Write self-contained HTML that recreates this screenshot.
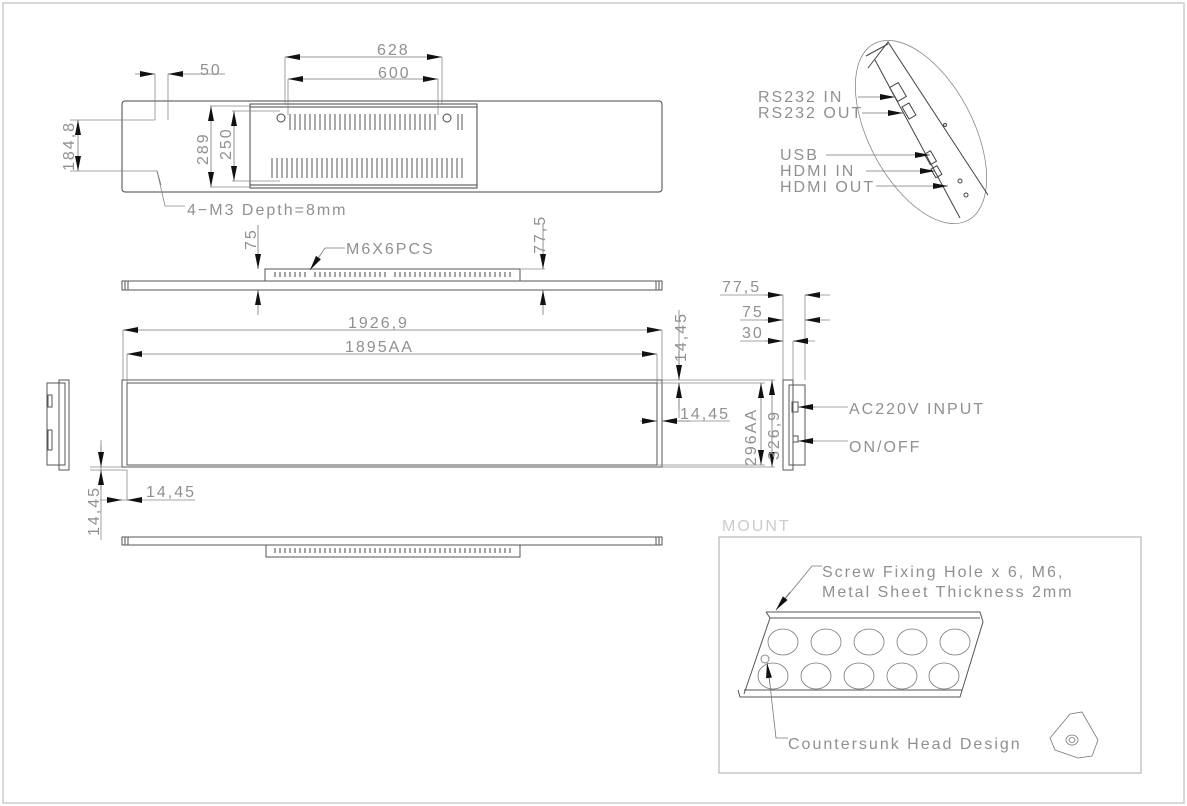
<!DOCTYPE html>
<html><head><meta charset="utf-8"><style>
html,body{margin:0;padding:0;background:#fff}
svg{display:block}
text{font-family:"Liberation Sans",sans-serif;fill:#909090;font-size:16px;font-weight:300;letter-spacing:2px}
</style></head><body>
<svg width="1187" height="806" viewBox="0 0 1187 806" xmlns="http://www.w3.org/2000/svg">
<defs>
<marker id="a" viewBox="0 0 10 4" refX="10" refY="2" markerWidth="16" markerHeight="6" markerUnits="userSpaceOnUse" orient="auto"><path d="M0,0L10,2L0,4z" fill="#111"/></marker>
</defs>
<rect x="3" y="3" width="1181" height="800" fill="none" stroke="#ccc" stroke-width="1.5"/>
<g stroke="#444" stroke-width="1" fill="none">
<rect x="122" y="101" width="540" height="91" rx="3"/>
<rect x="250" y="104" width="227" height="84"/>
<line x1="250" y1="107" x2="477" y2="107"/>
<line x1="250" y1="185" x2="477" y2="185"/>
<circle cx="281" cy="118" r="4"/><circle cx="447" cy="118" r="4"/>
</g>
<g stroke="#555" stroke-width="1">
<path d="M290 114v16M295 114v16M300 114v16M305 114v16M310 114v16M315 114v16M320 114v16M325 114v16M330 114v16M335 114v16M340 114v16M345 114v16M350 114v16M355 114v16M360 114v16M365 114v16M370 114v16M375 114v16M380 114v16M385 114v16M390 114v16M395 114v16M400 114v16M405 114v16M410 114v16M415 114v16M420 114v16M425 114v16M430 114v16M435 114v16M458 114v16M462 114v16"/>
<path d="M272 158v20M277 158v20M282 158v20M287 158v20M292 158v20M297 158v20M302 158v20M307 158v20M312 158v20M317 158v20M322 158v20M327 158v20M332 158v20M337 158v20M342 158v20M347 158v20M352 158v20M357 158v20M362 158v20M367 158v20M372 158v20M377 158v20M382 158v20M387 158v20M392 158v20M397 158v20M402 158v20M407 158v20M412 158v20M417 158v20M422 158v20M427 158v20M432 158v20M437 158v20M442 158v20M447 158v20M452 158v20M457 158v20M462 158v20"/>
</g>
<g stroke="#888" stroke-width="0.8" fill="none">
<line x1="285" y1="57" x2="285" y2="105"/><line x1="442" y1="57" x2="442" y2="105"/>
<line x1="288" y1="79" x2="288" y2="115"/><line x1="438" y1="79" x2="438" y2="115"/>
<line x1="155" y1="74" x2="155" y2="120"/><line x1="168" y1="74" x2="168" y2="120"/>
<line x1="70" y1="120" x2="155" y2="120"/><line x1="70" y1="171" x2="157" y2="171"/>
<line x1="210" y1="106" x2="250" y2="106"/><line x1="210" y1="187" x2="250" y2="187"/>
<line x1="232" y1="111" x2="280" y2="111"/><line x1="232" y1="181" x2="280" y2="181"/>
<path d="M157 171L165 206H185"/>
</g>
<g stroke="#777" stroke-width="0.8" marker-end="url(#a)">
<line x1="363" y1="57" x2="285" y2="57"/><line x1="363" y1="57" x2="442" y2="57"/>
<line x1="363" y1="79" x2="288" y2="79"/><line x1="363" y1="79" x2="438" y2="79"/>
<line x1="135" y1="74" x2="155" y2="74"/><line x1="225" y1="74" x2="168" y2="74"/>
<line x1="78" y1="145" x2="78" y2="120"/><line x1="78" y1="145" x2="78" y2="171"/>
<line x1="211" y1="146" x2="211" y2="106"/><line x1="211" y1="146" x2="211" y2="187"/>
<line x1="234" y1="146" x2="234" y2="111"/><line x1="234" y1="146" x2="234" y2="181"/>
<line x1="157" y1="171" x2="161" y2="185" marker-end="none"/>
</g>
<text x="377" y="55">628</text><text x="378" y="78">600</text><text x="200" y="75">50</text>
<text transform="translate(74,171) rotate(-90)">184,8</text>
<text transform="translate(208,165) rotate(-90)">289</text>
<text transform="translate(231,160) rotate(-90)">250</text>
<text x="187" y="215">4−M3  Depth=8mm</text>

<g stroke="#555" fill="none" stroke-width="1">
<rect x="122" y="281" width="540" height="9"/>
<rect x="265" y="269" width="255" height="12"/>
<path d="M125 281v9M128 281v9M656 281v9M659 281v9"/>
</g>
<g stroke="#666" stroke-width="1.2"><path d="M275 272v5M280 272v5M285 272v5M290 272v5M295 272v5M300 272v5M305 272v5M315 272v5M320 272v5M325 272v5M330 272v5M335 272v5M340 272v5M345 272v5M350 272v5M355 272v5M360 272v5M365 272v5M370 272v5M375 272v5M380 272v5M385 272v5M395 272v5M400 272v5M405 272v5M410 272v5M415 272v5M420 272v5M425 272v5M430 272v5M435 272v5M440 272v5M445 272v5M450 272v5M455 272v5M460 272v5M465 272v5M470 272v5M475 272v5M480 272v5M485 272v5M490 272v5M495 272v5M500 272v5M505 272v5M510 272v5"/></g>
<g stroke="#777" stroke-width="0.8" marker-end="url(#a)">
<line x1="258" y1="225" x2="258" y2="269"/><line x1="258" y1="315" x2="258" y2="290"/>
<line x1="543" y1="225" x2="543" y2="269"/><line x1="543" y1="315" x2="543" y2="290"/>
<path d="M345 248H325L310 270" fill="none"/>
</g>
<line x1="520" y1="269" x2="545" y2="269" stroke="#888" stroke-width="0.8"/>
<text transform="translate(256,250) rotate(-90)">75</text>
<text transform="translate(545,254) rotate(-90)">77,5</text>
<text x="346" y="254">M6X6PCS</text>

<g stroke="#555" fill="none" stroke-width="1">
<rect x="122" y="380" width="540" height="87"/>
<rect x="127" y="383" width="530" height="82"/>
</g>
<g stroke="#888" stroke-width="0.8" fill="none">
<line x1="123" y1="330" x2="123" y2="380"/><line x1="127" y1="354" x2="127" y2="383"/>
<line x1="662" y1="330" x2="662" y2="380"/><line x1="657" y1="354" x2="657" y2="383"/>
<line x1="662" y1="380" x2="775" y2="380"/><line x1="657" y1="383" x2="765" y2="383"/>
<line x1="657" y1="465" x2="765" y2="465"/><line x1="662" y1="467" x2="775" y2="467"/>
<line x1="679" y1="310" x2="679" y2="380"/>
<line x1="679" y1="383" x2="679" y2="418"/><line x1="679" y1="421" x2="730" y2="421"/>
<line x1="90" y1="467" x2="122" y2="467"/><line x1="90" y1="470" x2="127" y2="470"/>
<line x1="127" y1="470" x2="127" y2="500"/><line x1="100" y1="500" x2="195" y2="500"/>
<line x1="101" y1="440" x2="101" y2="540"/>
</g>
<g stroke="#777" stroke-width="0.8" marker-end="url(#a)">
<line x1="390" y1="330" x2="123" y2="330"/><line x1="390" y1="330" x2="662" y2="330"/>
<line x1="390" y1="354" x2="127" y2="354"/><line x1="390" y1="354" x2="657" y2="354"/>
<line x1="679" y1="350" x2="679" y2="380"/><line x1="679" y1="410" x2="679" y2="383"/>
<line x1="640" y1="421" x2="657" y2="421"/><line x1="690" y1="421" x2="662" y2="421"/>
<line x1="761" y1="424" x2="761" y2="383"/><line x1="761" y1="424" x2="761" y2="465"/>
<line x1="772" y1="424" x2="772" y2="380"/><line x1="772" y1="424" x2="772" y2="467"/>
<line x1="101" y1="445" x2="101" y2="467"/><line x1="101" y1="490" x2="101" y2="470"/>
<line x1="110" y1="500" x2="122" y2="500"/><line x1="140" y1="500" x2="127" y2="500"/>
</g>
<text x="348" y="328">1926,9</text><text x="345" y="352">1895AA</text>
<text transform="translate(686,362) rotate(-90)">14,45</text>
<text x="680" y="419">14,45</text>
<text transform="translate(756,466) rotate(-90)">296AA</text>
<text transform="translate(779,460) rotate(-90)">326,9</text>
<text transform="translate(99,536) rotate(-90)">14,45</text>
<text x="146" y="497">14,45</text>

<g stroke="#555" fill="none" stroke-width="1">
<rect x="122" y="537" width="540" height="8"/>
<rect x="266" y="545" width="254" height="12"/>
<path d="M125 537v8M128 537v8M656 537v8M659 537v8"/>
</g>
<g stroke="#666" stroke-width="1.2"><path d="M275 548v5M280 548v5M285 548v5M290 548v5M295 548v5M300 548v5M305 548v5M310 548v5M315 548v5M320 548v5M325 548v5M330 548v5M335 548v5M340 548v5M345 548v5M350 548v5M355 548v5M360 548v5M365 548v5M370 548v5M375 548v5M380 548v5M385 548v5M390 548v5M395 548v5M400 548v5M405 548v5M410 548v5M415 548v5M420 548v5M425 548v5M430 548v5M435 548v5M440 548v5M445 548v5M450 548v5M455 548v5M460 548v5M465 548v5M470 548v5M475 548v5M480 548v5M485 548v5M490 548v5M495 548v5M500 548v5M505 548v5M510 548v5"/></g>

<g stroke="#555" fill="none" stroke-width="1">
<rect x="47" y="383" width="18" height="82"/>
<rect x="59" y="380" width="10" height="90"/>
<rect x="48" y="395" width="4" height="12"/><rect x="48" y="430" width="4" height="20"/>
</g>
<g stroke="#555" fill="none" stroke-width="1">
<rect x="783" y="380" width="10" height="90"/>
<rect x="789" y="385" width="16" height="80"/>
<rect x="792" y="402" width="6" height="10"/><rect x="793" y="436" width="5" height="6"/>
</g>
<g stroke="#888" stroke-width="0.8" fill="none">
<line x1="720" y1="295" x2="783" y2="295"/><line x1="783" y1="295" x2="783" y2="380"/>
<line x1="740" y1="320" x2="783" y2="320"/><line x1="740" y1="341" x2="783" y2="341"/>
<line x1="805" y1="295" x2="830" y2="295"/><line x1="805" y1="320" x2="830" y2="320"/>
<line x1="793" y1="341" x2="815" y2="341"/>
<line x1="805" y1="295" x2="805" y2="380"/><line x1="793" y1="341" x2="793" y2="380"/>
<line x1="805" y1="407" x2="848" y2="407"/><line x1="805" y1="441" x2="848" y2="441"/>
</g>
<g stroke="#777" stroke-width="0.8" marker-end="url(#a)">
<line x1="765" y1="295" x2="783" y2="295"/><line x1="765" y1="320" x2="783" y2="320"/><line x1="765" y1="341" x2="783" y2="341"/>
<line x1="820" y1="295" x2="805" y2="295"/><line x1="820" y1="320" x2="805" y2="320"/><line x1="808" y1="341" x2="793" y2="341"/>
<line x1="815" y1="407" x2="798" y2="407"/><line x1="815" y1="441" x2="798" y2="441"/>
</g>
<text x="722" y="292">77,5</text><text x="742" y="317">75</text><text x="742" y="338">30</text>
<text x="849" y="414">AC220V INPUT</text><text x="849" y="452">ON/OFF</text>

<ellipse cx="921" cy="132" rx="52" ry="100" transform="rotate(-28 921 132)" fill="none" stroke="#888" stroke-width="0.8"/>
<g stroke="#444" fill="none" stroke-width="1">
<path d="M868 68L888 42L988 195"/><path d="M875 60L960 218"/>
<path d="M866 56L888 44"/>
<rect x="893" y="84" width="10" height="16" transform="rotate(-30 898 92)"/>
<rect x="905" y="104" width="8" height="14" transform="rotate(-30 909 111)"/>
<rect x="927" y="152" width="7" height="12" transform="rotate(-30 930 158)"/>
<rect x="933" y="167" width="7" height="10" transform="rotate(-30 936 172)"/>
<circle cx="960" cy="181" r="2"/><circle cx="966" cy="195" r="2"/><circle cx="945" cy="125" r="1.5"/>
</g>
<g stroke="#777" stroke-width="0.8" marker-end="url(#a)">
<line x1="858" y1="97" x2="895" y2="97"/><line x1="862" y1="113" x2="903" y2="113"/>
<line x1="826" y1="155" x2="930" y2="155"/><line x1="866" y1="171" x2="935" y2="171"/>
<line x1="876" y1="186" x2="948" y2="186"/>
</g>
<text x="758" y="102">RS232 IN</text><text x="758" y="118">RS232 OUT</text>
<text x="780" y="160">USB</text><text x="780" y="176">HDMI IN</text><text x="780" y="192">HDMI OUT</text>

<text x="722" y="531" style="fill:#ccc">MOUNT</text>
<rect x="719" y="537" width="422" height="236" fill="none" stroke="#aaa" stroke-width="1"/>
<g stroke="#555" fill="none" stroke-width="1">
<path d="M766 612H980L983 622L960 697H740L738 690"/>
<path d="M766 612L770 618L744 694"/>
<path d="M770 618H980"/><path d="M744 690H962"/>
</g>
<g stroke="#777" fill="none" stroke-width="0.8">
<ellipse cx="783" cy="642" rx="15" ry="13"/><ellipse cx="826" cy="642" rx="15" ry="13"/><ellipse cx="869" cy="642" rx="15" ry="13"/><ellipse cx="912" cy="642" rx="15" ry="13"/><ellipse cx="955" cy="642" rx="15" ry="13"/>
<ellipse cx="773" cy="676" rx="15" ry="13"/><ellipse cx="816" cy="676" rx="15" ry="13"/><ellipse cx="859" cy="676" rx="15" ry="13"/><ellipse cx="902" cy="676" rx="15" ry="13"/><ellipse cx="944" cy="676" rx="15" ry="13"/>
<circle cx="765" cy="659" r="4"/>
<path d="M822 566H812L776 610"/><path d="M768 667L776 738H788"/>
<path d="M1050 738L1070 714L1082 712L1098 740L1092 756L1078 758L1055 750Z"/>
<ellipse cx="1072" cy="740" rx="6" ry="5"/><ellipse cx="1072" cy="740" rx="3" ry="2.5"/>
</g>
<g stroke="#777" stroke-width="0.8" marker-end="url(#a)">
<line x1="790" y1="592" x2="776" y2="610"/><line x1="770" y1="685" x2="767" y2="663"/>
</g>
<text x="822" y="577">Screw Fixing Hole x 6, M6,</text>
<text x="822" y="597">Metal Sheet Thickness 2mm</text>
<text x="788" y="749">Countersunk Head Design</text>
</svg>
</body></html>
